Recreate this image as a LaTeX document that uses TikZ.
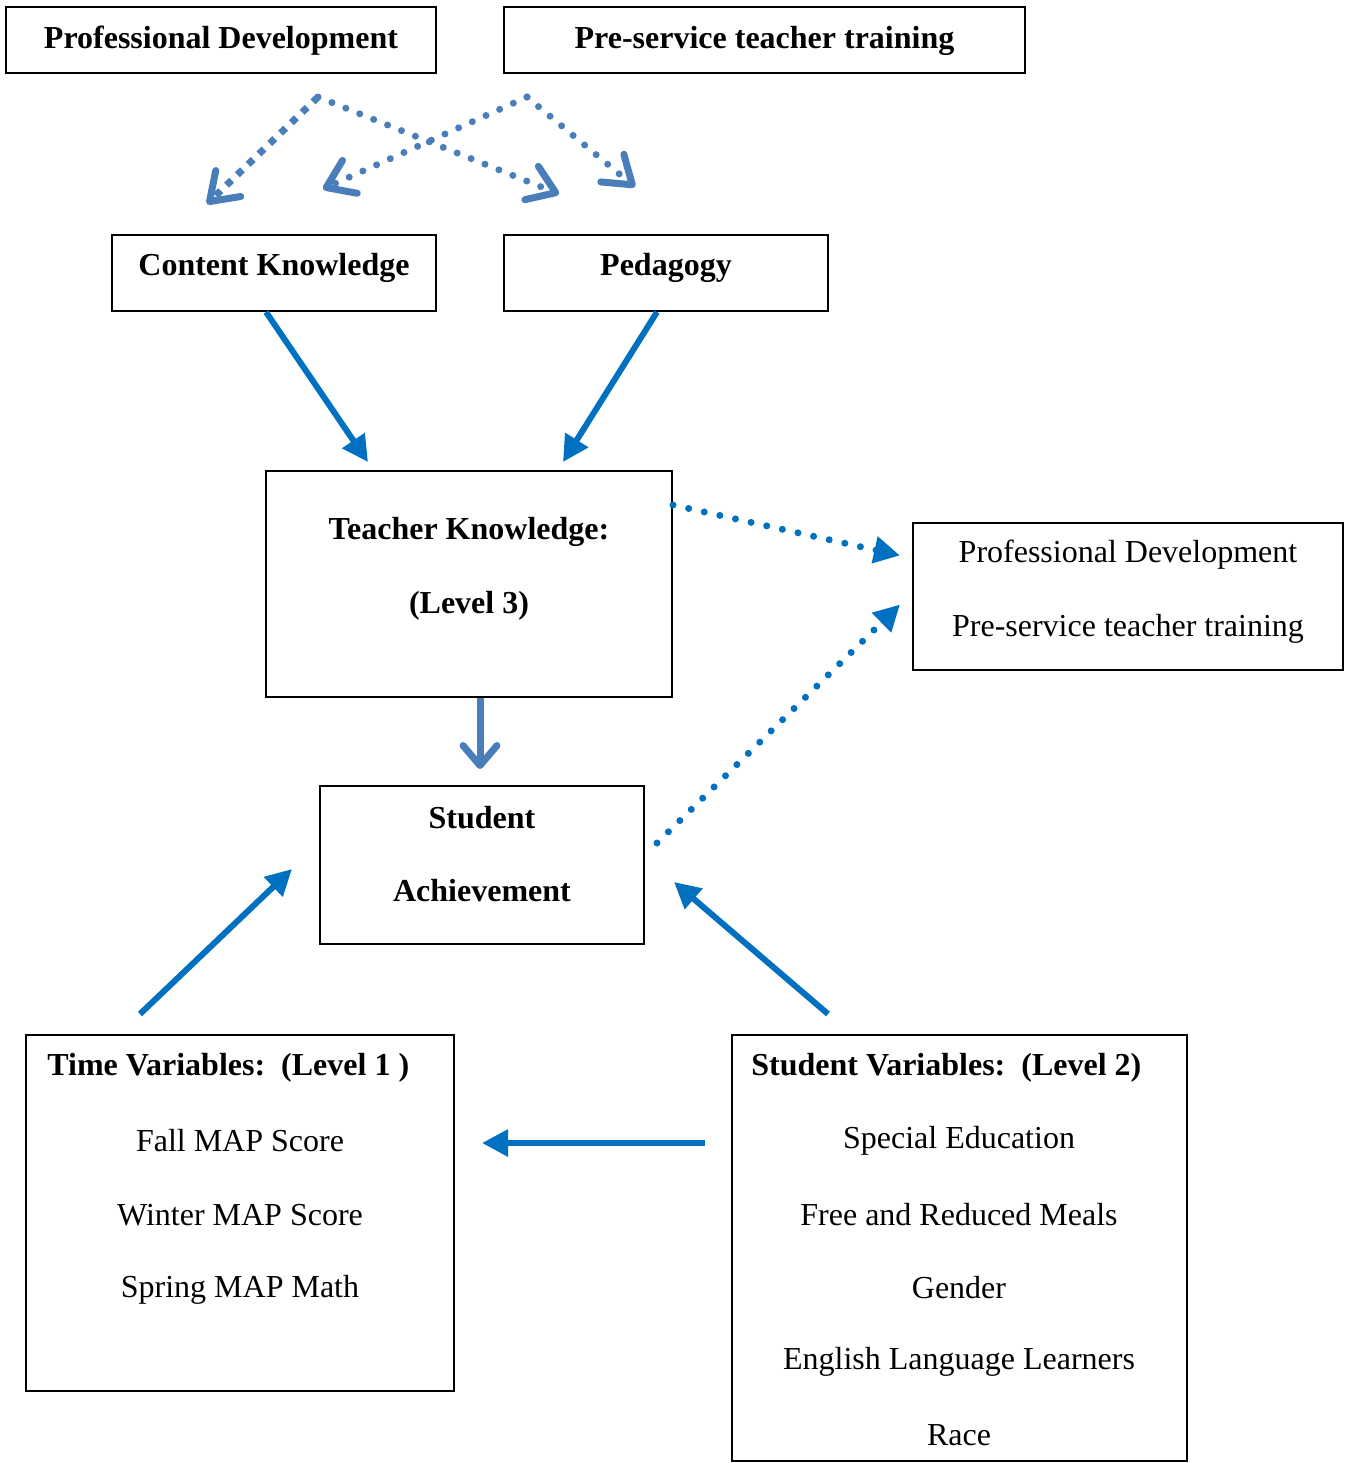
\documentclass[tikz,border=0pt]{standalone}
\usepackage{fontspec}
\setmainfont{Liberation Serif}
\usetikzlibrary{arrows.meta}
\usetikzlibrary{calc}
\definecolor{wordblue}{HTML}{0070C0}
\definecolor{steelblue}{HTML}{4A7EBB}

\begin{document}
\begin{tikzpicture}[x=0.5pt, y=-0.5pt,
    box/.style={rectangle, draw=black, line width=1pt, inner sep=0pt},
    txt/.style={inner sep=0pt, yshift=-1.5pt, font=\fontsize{16}{19}\selectfont},
    btxt/.style={inner sep=0pt, yshift=-1.5pt, font=\fontsize{16}{19}\selectfont\bfseries},
    solidarrow/.style={draw=wordblue, line width=3pt, -{Triangle[length=13pt,width=13pt]}},
    openarrow/.style={draw=steelblue, line width=3.5pt, -{Straight Barb[length=10pt,width=17pt,round]}},
    dotround/.style={draw=steelblue, line width=3.5pt, line cap=round, dash pattern=on 0pt off 7.5pt, -{Straight Barb[length=13pt,width=18pt,round]}},
    dotsquare/.style={draw=steelblue, line width=3.5pt, line cap=butt, dash pattern=on 3.5pt off 4pt, -{Straight Barb[length=13pt,width=18pt,round]}},
    dotblue/.style={draw=wordblue, line width=3.5pt, line cap=round, dash pattern=on 0pt off 8pt, -{Triangle[length=13pt,width=13pt]}}]
    \useasboundingbox (0, 0) rectangle (1352, 1463);

    % boxes
    \node (pd) at (221, 40) [box, minimum width=215pt, minimum height=33pt]{};
    \node (pst) at (764.5, 40) [box, minimum width=260.5pt, minimum height=33pt]{};
    \node (ck) at (274, 273) [box, minimum width=162pt, minimum height=38pt]{};
    \node (ped) at (666, 273) [box, minimum width=162pt, minimum height=38pt]{};
    \node (tk) at (469, 584) [box, minimum width=203pt, minimum height=113pt]{};
    \node (sa) at (482, 865) [box, minimum width=162pt, minimum height=79pt]{};
    \node (rb) at (1128, 596.5) [box, minimum width=215pt, minimum height=73.5pt]{};
    \node (time) at (240, 1213) [box, minimum width=214pt, minimum height=178pt]{};
    \node (sv) at (959.5, 1248) [box, minimum width=227.5pt, minimum height=213pt]{};

    % texts
    \node (pd-t) at (221, 38) [btxt]{Professional Development};
    \node (pst-t) at (764.5, 38) [btxt]{Pre-service teacher training};
    \node (ck-t) at (274, 265) [btxt]{Content Knowledge};
    \node (ped-t) at (666, 265) [btxt]{Pedagogy};
    \node (tk-t1) at (469, 529) [btxt]{Teacher Knowledge:};
    \node (tk-t2) at (469, 603) [btxt]{(Level 3)};
    \node (sa-t1) at (482, 815) [btxt]{Student};
    \node (sa-t2) at (482, 888) [btxt]{Achievement};
    \node (rb-t1) at (1128, 552) [txt]{Professional Development};
    \node (rb-t2) at (1128, 626) [txt]{Pre-service teacher training};
    \node (time-t0) at (47, 1065) [btxt, anchor=west]{Time Variables:~~(Level 1~)};
    \node (time-t1) at (240, 1138) [txt]{Fall MAP Score};
    \node (time-t2) at (240, 1212) [txt]{Winter MAP Score};
    \node (time-t3) at (240, 1287) [txt]{Spring MAP Math};
    \node (sv-t0) at (751, 1065) [btxt, anchor=west]{Student Variables:~~(Level 2)};
    \node (sv-t1) at (959, 1138) [txt]{Special Education};
    \node (sv-t2) at (959, 1212) [txt]{Free and Reduced Meals};
    \node (sv-t3) at (959, 1285) [txt]{Gender};
    \node (sv-t4) at (959, 1359) [txt]{English Language Learners};
    \node (sv-t5) at (959, 1432) [txt]{Race};

    % top dotted arrows
    \coordinate (pdfork) at ($(pd.south)+(97, 23)$);
    \coordinate (pstfork) at ($(pst.south)+(-237.5, 23)$);
    \draw[dotsquare] (pdfork) -- ($(ck.north)+(-67, -30)$);
    \draw[dotround] (pdfork) -- ($(ped.north west)+(56, -40)$);
    \draw[dotround] (pstfork) -- ($(ck.north)+(49, -45)$);
    \draw[dotround] (pstfork) -- ($(ped.north)+(-31, -47)$);

    % solid arrows
    \draw[solidarrow] ($(ck.south)+(-8, 0)$) -- ($(tk.north)+(-101, -8)$);
    \draw[solidarrow] ($(ped.south)+(-9, 0)$) -- ($(tk.north)+(94, -8)$);
    \draw[openarrow] ($(tk.south)+(11, 0)$) -- ($(sa.north)+(-2, -16)$);
    \draw[solidarrow] ($(time.north)+(-100, -20)$) -- ($(sa.west)+(-27, 4)$);
    \draw[solidarrow] ($(sv.north)+(-131.5, -20)$) -- ($(sa.east)+(29, 17)$);
    \draw[solidarrow] ($(sv.west)+(-26, -105)$) -- ($(time.east)+(27, -70)$);

    % dotted arrows to the right box
    \draw[dotblue] ($(tk.north east)+(0, 35)$) -- ($(rb.west)+(-12, -41)$);
    \draw[dotblue] ($(sa.east)+(12, -22)$) -- ($(rb.west)+(-12, 8)$);
\end{tikzpicture}
\end{document}
